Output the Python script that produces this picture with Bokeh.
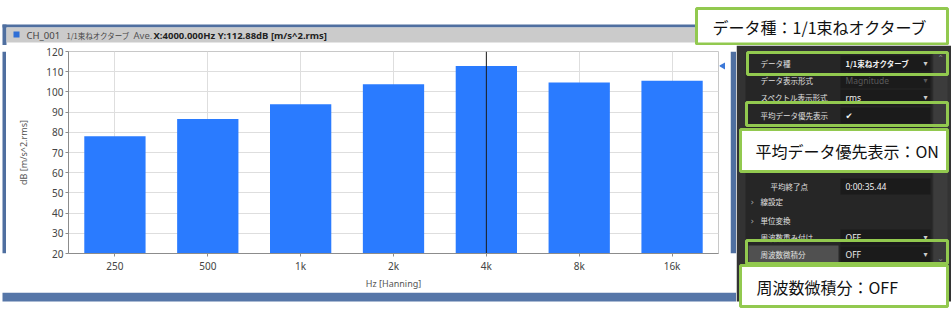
import math
from bokeh.plotting import figure
from bokeh.layouts import row, column
from bokeh.models import FactorRange, Range1d, FixedTicker
from bokeh.core.properties import value
from bokeh.embed import file_html
from bokeh.resources import INLINE

# ---------------- data ----------------
bands = ["250", "500", "1k", "2k", "4k", "8k", "16k"]
band_hz = [250, 500, 1000, 2000, 4000, 8000, 16000]
levels_db = [78.1, 86.6, 93.9, 103.8, 112.88, 104.6, 105.5]
y_ticks = [20, 30, 40, 50, 60, 70, 80, 90, 100, 110, 120]
y_min, y_max = 20, 120
cursor_band = "4k"
channel = "CH_001"
data_kind = "1/1束ねオクターブ"
y_unit = "dB [m/s^2.rms]"
x_unit = "Hz [Hanning]"

row_labels = ["データ種", "データ表示形式", "スペクトル表示形式", "平均データ優先表示",
              "平均終了点", "線設定", "単位変換", "周波数重み付け", "周波数微積分"]
row_values = ["1/1束ねオクターブ", "Magnitude", "rms", "✔", "0:00:35.44", "", "", "OFF", "OFF"]
callouts = ["データ種：1/1束ねオクターブ", "平均データ優先表示：ON", "周波数微積分：OFF"]

# ---------------- styles ----------------
BAR = "#2a7bff"
GREEN = "#92c94f"
WIN = "#4f6fa0"
JP = "Noto Sans CJK JP"
LAT = "Noto Sans"
SPLIT = 45       # canvas row where the title strip ends


def deco_fig(x0, x1, y0, y1):
    f = figure(width=x1 - x0, height=y1 - y0, x_range=Range1d(x0, x1), y_range=Range1d(y1, y0),
               output_backend="svg", toolbar_location=None, min_border=0,
               x_axis_type=None, y_axis_type=None)
    f.outline_line_color = None
    f.background_fill_color = "white"
    f.border_fill_color = "white"
    return f


def rect(f, l, t, r, b, fill=None, line=None, lw=0):
    f.quad(left=[l], right=[r], top=[t], bottom=[b],
           fill_color=fill if fill else "white", fill_alpha=1 if fill else 0,
           line_color=line if line else "white", line_alpha=1 if line else 0, line_width=lw)


def txt(f, x, y, s, size="9px", color="#dddddd", font=JP, style="normal", align="left"):
    f.text(x=[x], y=[y], text=[s], text_font=value(font), text_font_size=value(size),
           text_color=color, text_font_style=style, text_baseline="middle", text_align=align)


# ---------------- top strip (title bar + first callout) ----------------
top = deco_fig(0, 951, 0, SPLIT)
rect(top, 2, 24, 736, 27, fill=WIN)
rect(top, 2, 24, 6, SPLIT, fill=WIN)
rect(top, 730, 24, 736, SPLIT, fill=WIN)
rect(top, 6, 27, 730, 42, fill="#cbcbcb")
rect(top, 13, 31, 19, 37, fill="#2f6fd6")
ci = bands.index(cursor_band)
txt(top, 26, 35, channel, size="9.5px", color="#444444", font=LAT)
txt(top, 66, 35, data_kind, size="7.5px", color="#444444")
txt(top, 133, 35, "Ave.", size="9.5px", color="#555555", font=LAT)
txt(top, 153, 35, f"X:{band_hz[ci]:.3f}Hz Y:{levels_db[ci]:.2f}dB [{y_unit.split('[')[1]}",
    size="9.5px", color="#222222", font=LAT, style="bold")
rect(top, 696, 8, 947, SPLIT - 1.5, fill="white", line=GREEN, lw=3)
txt(top, 712, 26, callouts[0], size="16px", color="#111111")

# ---------------- chart ----------------
H = 292 - SPLIT
p = figure(width=713, height=H, x_range=FactorRange(*bands), y_range=Range1d(y_min, y_max),
           output_backend="svg", toolbar_location=None,
           min_border_left=62, min_border_right=1, min_border_top=51 - SPLIT, min_border_bottom=31)
p.background_fill_color = "white"
p.border_fill_color = "white"
p.outline_line_color = "#c8c8c8"
p.vbar(x=bands, top=levels_db, bottom=y_min, width=0.66, fill_color=BAR, line_color=None)
p.segment(x0=[cursor_band], x1=[cursor_band], y0=[y_min], y1=[y_max], line_color="#1a1a1a", line_width=1)
p.yaxis.ticker = FixedTicker(ticks=y_ticks)
p.xaxis.axis_label = x_unit
p.yaxis.axis_label = y_unit
for ax in (p.xaxis[0], p.yaxis[0]):
    ax.axis_line_color = "#8c8c8c"
    ax.major_tick_line_color = "#8c8c8c"
    ax.minor_tick_line_color = None
    ax.major_tick_in = 0
    ax.major_tick_out = 3
    ax.major_label_text_font = LAT
    ax.major_label_text_font_size = "10px"
    ax.major_label_text_color = "#444444"
    ax.axis_label_text_font = LAT
    ax.axis_label_text_font_size = "9px"
    ax.axis_label_text_font_style = "normal"
    ax.axis_label_text_color = "#555555"
p.xaxis.major_label_standoff = 2
p.xaxis.axis_label_standoff = 1
p.yaxis.major_label_standoff = 2
p.yaxis.axis_label_standoff = 13
p.xgrid.grid_line_color = "#dedede"
p.ygrid.grid_line_color = "#dedede"

# cursor marker strip to the right of the plot frame (shares the dB scale)
tri = figure(width=11, height=H, x_range=Range1d(0, 11), y_range=p.y_range,
             output_backend="svg", toolbar_location=None, min_border_left=0, min_border_right=0,
             min_border_top=51 - SPLIT, min_border_bottom=31, x_axis_type=None, y_axis_type=None)
tri.outline_line_color = None
tri.scatter(x=[3.5], y=[levels_db[ci]], marker="triangle", size=7, angle=math.pi / 2,
            fill_color="#3b78d8", line_color=None)

lb = deco_fig(0, 6, SPLIT, 292)
rect(lb, 2, SPLIT, 6, 292, fill=WIN)
rb = deco_fig(730, 736, SPLIT, 292)
rect(rb, 730, SPLIT, 736, 292, fill=WIN)
bottom = deco_fig(0, 736, 292, 312)
rect(bottom, 2, 292, 736, 301, fill="#5676a8")

# ---------------- property panel ----------------
pn = deco_fig(736, 951, SPLIT, 312)
rect(pn, 736, SPLIT, 951, 301, fill="#333333")
rect(pn, 745, 52, 932, 301, fill="#262626")
rect(pn, 933, 52, 947, 266, fill="#3c3c3c")
row_y = [63, 80, 97, 115, 186, 201, 220, 237, 254]
for i in [0, 1, 2, 3, 4, 7, 8]:
    rect(pn, 840, row_y[i] - 8, 930, row_y[i] + 8, fill="#1b1b1b")
rect(pn, 748, 245, 838, 263, fill="#505050")
label_x = [760, 760, 760, 760, 770, 760, 760, 760, 760]
for i, lab in enumerate(row_labels):
    txt(pn, label_x[i], row_y[i], lab, size="7.5px", color="#e0e0e0")
    v = row_values[i]
    if v:
        col = "#5a5a5a" if i == 1 else "#f0f0f0"
        sty = "bold" if i == 0 else "normal"
        fnt = "DejaVu Sans" if v == "✔" else (JP if i == 0 else LAT)
        txt(pn, 845, row_y[i], v, size="8.5px" if i else "7.5px", color=col, font=fnt, style=sty)
for i in [0, 1, 2, 7, 8]:
    txt(pn, 925, row_y[i], "▾", size="8px", color="#5a5a5a" if i == 1 else "#cccccc",
        font="DejaVu Sans", align="center")
for i in [5, 6]:
    txt(pn, 750, row_y[i], "›", size="9px", color="#aaaaaa", font="DejaVu Sans")
txt(pn, 940, 58, "⌃", size="8px", color="#888888", font="DejaVu Sans", align="center")
txt(pn, 940, 258, "⌄", size="8px", color="#888888", font="DejaVu Sans", align="center")

rect(pn, 747, 52, 947, 74, line=GREEN, lw=3)
rect(pn, 746, 102, 947, 125, line=GREEN, lw=3)
rect(pn, 746, 240, 947, 263, line=GREEN, lw=3)
rect(pn, 740, 129, 947, 171, fill="white", line=GREEN, lw=3)
rect(pn, 740, 265, 947, 306, fill="white", line=GREEN, lw=3)
txt(pn, 755, 150, callouts[1], size="16px", color="#111111")
txt(pn, 756, 286, callouts[2], size="16px", color="#111111")

layout = column(top, row(column(row(lb, p, tri, rb), bottom), pn))
open("out.html", "w").write(file_html(layout, INLINE))
